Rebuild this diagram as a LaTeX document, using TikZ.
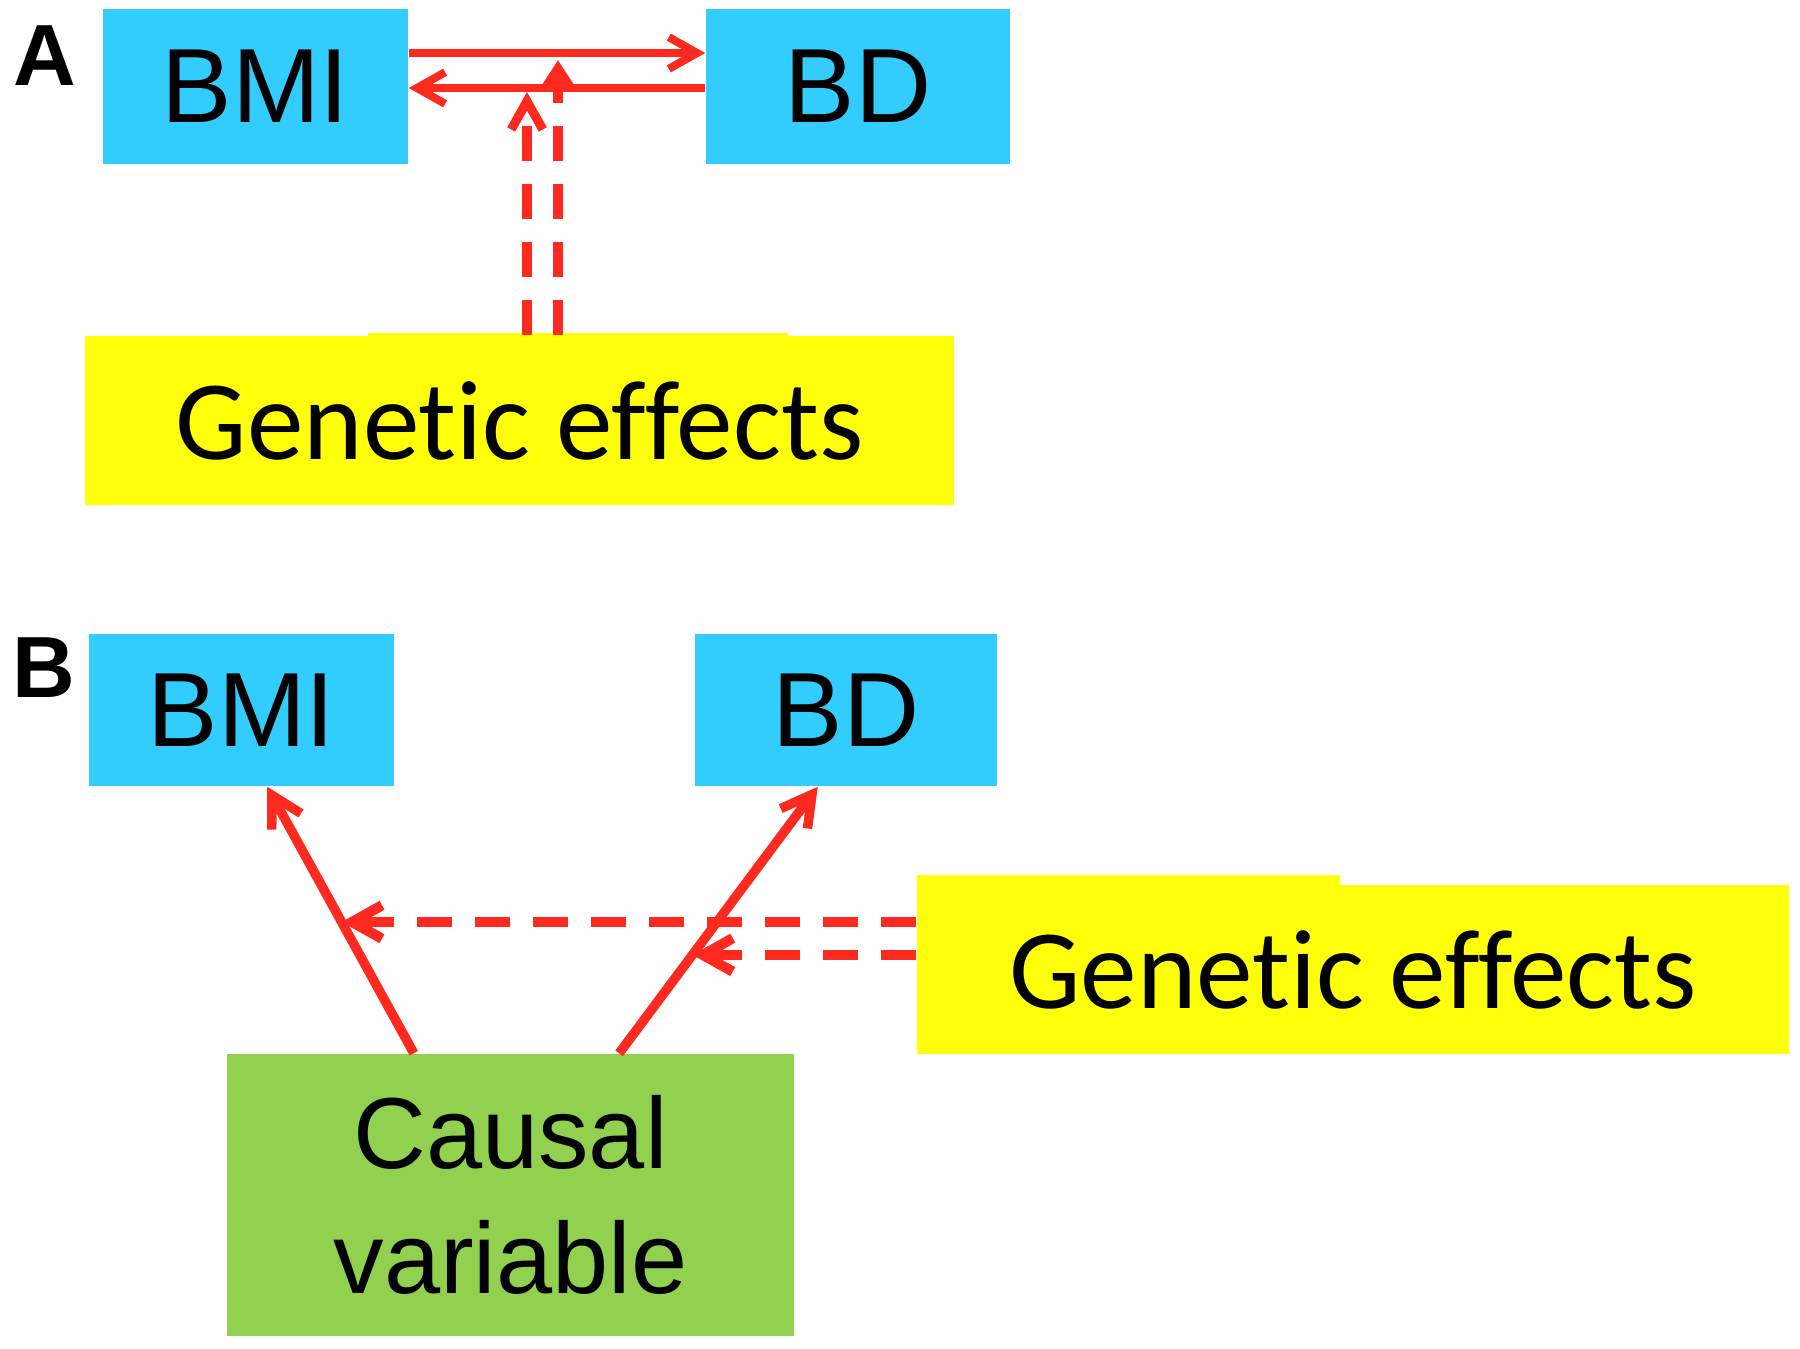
\documentclass[tikz,border=0pt]{standalone}
\usepackage{fontspec}
\setmainfont{Liberation Sans}
\newfontfamily\calfont[Ligatures=NoCommon]{Carlito}
\usetikzlibrary{arrows.meta,calc}
\definecolor{boxblue}{HTML}{33CCFF}
\definecolor{boxyellow}{HTML}{FFFF0A}
\definecolor{boxgreen}{HTML}{92D050}
\definecolor{arrred}{HTML}{FF2A1F}
\begin{document}
\begin{tikzpicture}[x=0.01cm,y=-0.01cm,
  bluebox/.style={fill=boxblue, inner sep=0pt, font=\fontsize{30}{36}\selectfont},
  yelbox/.style={fill=boxyellow, inner sep=0pt, font=\calfont\fontsize{32.2}{38}\selectfont},
  greenbox/.style={fill=boxgreen, inner sep=0pt, align=center, font=\fontsize{28.7}{35.6}\selectfont},
  panellab/.style={inner sep=0pt, font=\bfseries\fontsize{24.7}{30}\selectfont},
  solidarr/.style={draw=arrred, line width=2.3pt, -{Straight Barb[length=8pt,width=9pt]}},
  dasharr/.style={draw=arrred, line width=2.6pt, dash pattern=on 0.35cm off 0.23cm, -{Straight Barb[length=8pt,width=9pt]}},
  dashtri/.style={draw=arrred, line width=2.6pt, dash pattern=on 0.35cm off 0.23cm, -{Triangle[length=7pt,width=8.5pt]}},
  solidarrB/.style={draw=arrred, line width=2.7pt, -{Straight Barb[length=8.5pt,width=9.5pt]}},
  dasharrB/.style={draw=arrred, line width=2.9pt, dash pattern=on 0.35cm off 0.23cm, -{Straight Barb[length=8.5pt,width=9.5pt]}}
]
\useasboundingbox (0,0) rectangle (1800,1348);

% ---------- Panel A ----------
\node[panellab] (labA) at (45,56) {A};
\node[bluebox, minimum width=3.05cm, minimum height=1.55cm] (bmiA) at (255.5,86.5) {BMI};
\node[bluebox, minimum width=3.04cm, minimum height=1.55cm] (bdA) at (858,86.5) {BD};
\fill[boxyellow] (368,333) rectangle (788,340);
\node[yelbox, minimum width=8.69cm, minimum height=1.69cm] (genA) at (519.5,420.5) {Genetic effects};

\coordinate (a1) at (0,53);
\coordinate (a2) at (0,88);
\coordinate (tA1) at (527,92);
\coordinate (tA2) at (558,60);
\draw[solidarr] (bmiA.east |- a1) -- (bdA.west |- a1);
\draw[solidarr] (bdA.west |- a2) -- (bmiA.east |- a2);
\draw[dasharr] (genA.north -| tA1) -- (tA1);
\draw[dashtri] (genA.north -| tA2) -- (tA2);

% ---------- Panel B ----------
\node[panellab] (labB) at (44,668) {B};
\node[bluebox, minimum width=3.05cm, minimum height=1.52cm] (bmiB) at (241.5,710) {BMI};
\node[bluebox, minimum width=3.02cm, minimum height=1.52cm] (bdB) at (846,710) {BD};
\fill[boxyellow] (917,875) rectangle (1340,887);
\node[yelbox, minimum width=8.72cm, minimum height=1.69cm] (genB) at (1353,969.5) {Genetic effects};
\node[greenbox, minimum width=5.67cm, minimum height=2.82cm] (cv) at (510.5,1195) {Causal\\variable};

\coordinate (cvL) at ($(cv.north west)!0.33!(cv.north east)$);
\coordinate (cvR) at ($(cv.north west)!0.691!(cv.north east)$);
\coordinate (bmiT) at ($(bmiB.south west)!0.584!(bmiB.south east)$);
\coordinate (bdT) at ($(bdB.south west)!0.407!(bdB.south east)$);
\draw[solidarrB] (cvL) -- (bmiT);
\draw[solidarrB] (cvR) -- (bdT);

\coordinate (pL) at ($(cvL)!0.4925!(bmiT)$);
\coordinate (pR) at ($(cvR)!0.369!(bdT)$);
\draw[dasharrB] (genB.west |- pL) -- (pL);
\draw[dasharrB] (genB.west |- pR) -- (pR);
\end{tikzpicture}
\end{document}
